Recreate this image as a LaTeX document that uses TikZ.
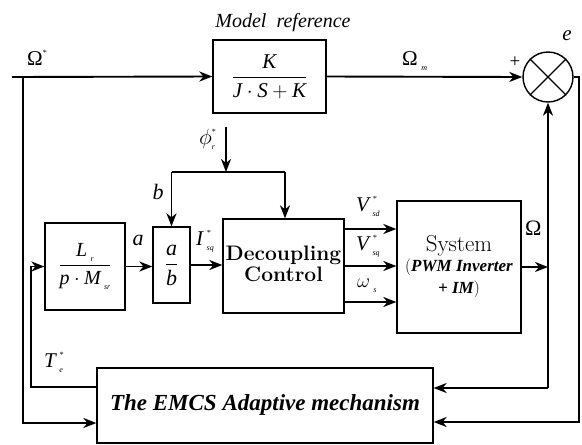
\RequirePackage{fix-cm}
\documentclass[tikz,border=0pt]{standalone}
\usepackage{amsmath}
\usepackage{fontspec}
\newfontfamily\tms{Liberation Serif}
\usetikzlibrary{arrows.meta}
\newcommand\ti[1]{\mbox{\tms\itshape #1}}
\newcommand\sbx[1]{\raisebox{-5pt}{\fontsize{8}{8}\selectfont\tms\itshape #1}}
\newcommand\stx{\raisebox{10pt}{\fontsize{8}{8}\selectfont\tms *}}
\newcommand\supsub[1]{\rlap{\stx}\sbx{#1}}
\begin{document}
\begin{tikzpicture}[x=1pt,y=-1pt,
  blk/.style={draw, line width=1.3pt, inner sep=0pt, font=\fontsize{21}{24}\selectfont},
  con/.style={line width=1.9pt},
  arr/.style={con, -{Stealth[length=13pt,width=10pt,inset=4pt]}},
  lbl/.style={inner sep=0pt, font=\tms\fontsize{21}{24}\selectfont\itshape},
  ]
\useasboundingbox (0,0) rectangle (582,445);

% blocks
\node[blk, minimum width=113pt, minimum height=73pt] (model) at (269.5,76.5)
  {$\dfrac{\ti{K}}{\ti{J}\cdot\ti{S}+\ti{K}}$};
\node[draw, circle, line width=1.4pt, minimum size=50pt, inner sep=0pt] (sum) at (548,77) {};
\draw[line width=1.4pt] (sum.north west) -- (sum.south east) (sum.north east) -- (sum.south west);
\node[blk, minimum width=80pt, minimum height=87pt, font=\fontsize{20}{24}\selectfont] (lr) at (85,266.5)
  {$\dfrac{\ti{L}\,\sbx{r}}{\ti{p}\cdot\ti{M}\,\sbx{sr}}$};
\node[blk, minimum width=37pt, minimum height=76pt, font=\fontsize{22}{24}\selectfont] (ab) at (171.5,265)
  {$\dfrac{\ti{a}}{\ti{b}}$};
\node[blk, minimum width=121pt, minimum height=94pt, font=\fontsize{21}{24}\selectfont\bfseries] (dec) at (283.5,266)
  {\raisebox{-5pt}{\begin{tabular}{@{}c@{}}Decoupling\\[-3pt]Control\end{tabular}}};
\node[blk, minimum width=124pt, minimum height=132pt, font=\fontsize{23}{25}\selectfont] (sys) at (459,267)
  {\raisebox{10pt}{\begin{tabular}{@{}c@{}}System\\[-5pt]
   {\fontsize{17}{20}\selectfont(\tms\bfseries\itshape PWM Inverter}\\[-3pt]
   {\fontsize{17}{20}\selectfont\tms\bfseries\itshape + IM\normalfont\rmfamily)}\end{tabular}}};
\node[blk, minimum width=336pt, minimum height=75pt, font=\tms\fontsize{23}{26}\selectfont\bfseries\itshape] (adapt) at (265,405.5)
  {\raisebox{5pt}{The EMCS Adaptive mechanism}};

% labels
\node[lbl, anchor=base, font=\tms\fontsize{20}{22}\selectfont\itshape] (mref) at (283,27) {Model\ \ reference};
\node[lbl, anchor=base west, font=\tms\fontsize{21}{22}\selectfont] (lom) at (27,65) {Ω\stx};
\node[lbl, anchor=base west, font=\tms\fontsize{21}{22}\selectfont] (lomm) at (402,65) {Ω\,\sbx{m}};
\node[lbl, font=\tms\fontsize{19}{20}\selectfont] (lplus) at (515,62) {+};
\node[lbl, anchor=base, font=\tms\fontsize{21}{22}\selectfont\itshape] (le) at (567,40) {e};
\node[lbl, anchor=base west, font=\fontsize{22}{24}\selectfont] (lphi) at (199,144) {$\phi$\supsub{r}};
\node[lbl, anchor=base, font=\tms\fontsize{22}{24}\selectfont\itshape] (lb) at (158,199) {b};
\node[lbl, anchor=base, font=\tms\fontsize{22}{24}\selectfont\itshape] (la) at (138,245) {a};
\node[lbl, anchor=base west] (lisq) at (196,245) {I\,\supsub{sq}};
\node[lbl, anchor=base west] (lvsd) at (356,211) {V\,\supsub{sd}};
\node[lbl, anchor=base west] (lvsq) at (356,250) {V\,\supsub{sq}};
\node[lbl, anchor=base west, font=\fontsize{20}{24}\selectfont] (lws) at (357,287) {$\omega$\,\sbx{s}};
\node[lbl, anchor=base west, font=\tms\fontsize{22}{24}\selectfont] (lom2) at (525,235) {Ω};
\node[lbl, anchor=base west] (lte) at (44,367) {T\,\supsub{e}};

% coordinates
\coordinate (in) at (12,77);
\coordinate (j1) at (23,77);
\coordinate (r1) at (579,77);
\coordinate (j3) at (548,388);
\coordinate (fb) at (31,387);
\coordinate (phi) at (226,127);
\coordinate (j4) at (226,172);
\coordinate (bl) at (171.5,172);
\coordinate (br) at (285,172);

% connectors
\draw[arr] (in) -- (model.west);
\draw[arr] (j1) |- ([yshift=-17.5pt]adapt.west);
\draw[arr] (model.east) -- (sum.west);
\draw[arr] (sum.east) -- (r1) |- ([yshift=-16.5pt]adapt.east);
\draw[arr] (j3) -- (sum.south);
\draw[arr] (j3) -- (j3 -| adapt.east);
\draw[arr] (sys.east) -- (sys.east -| j3);
\draw[arr] ([yshift=18.5pt]adapt.west) -- (fb) |- (lr.west);
\draw[arr] (lr.east) -- (lr.east -| ab.west);
\draw[arr] (ab.east) -- (ab.east -| dec.west);
\draw[arr] (phi) -- (j4);
\draw[con] (bl) -- (br);
\draw[arr] (bl) -- (ab.north);
\draw[arr] (br) -- (br |- dec.north);
\draw[arr] ([yshift=37pt]dec.east) -- ([yshift=37pt]dec.east -| sys.west);
\draw[arr] (dec.east) -- (dec.east -| sys.west);
\draw[arr] ([yshift=-36pt]dec.east) -- ([yshift=-36pt]dec.east -| sys.west);
\end{tikzpicture}
\end{document}
